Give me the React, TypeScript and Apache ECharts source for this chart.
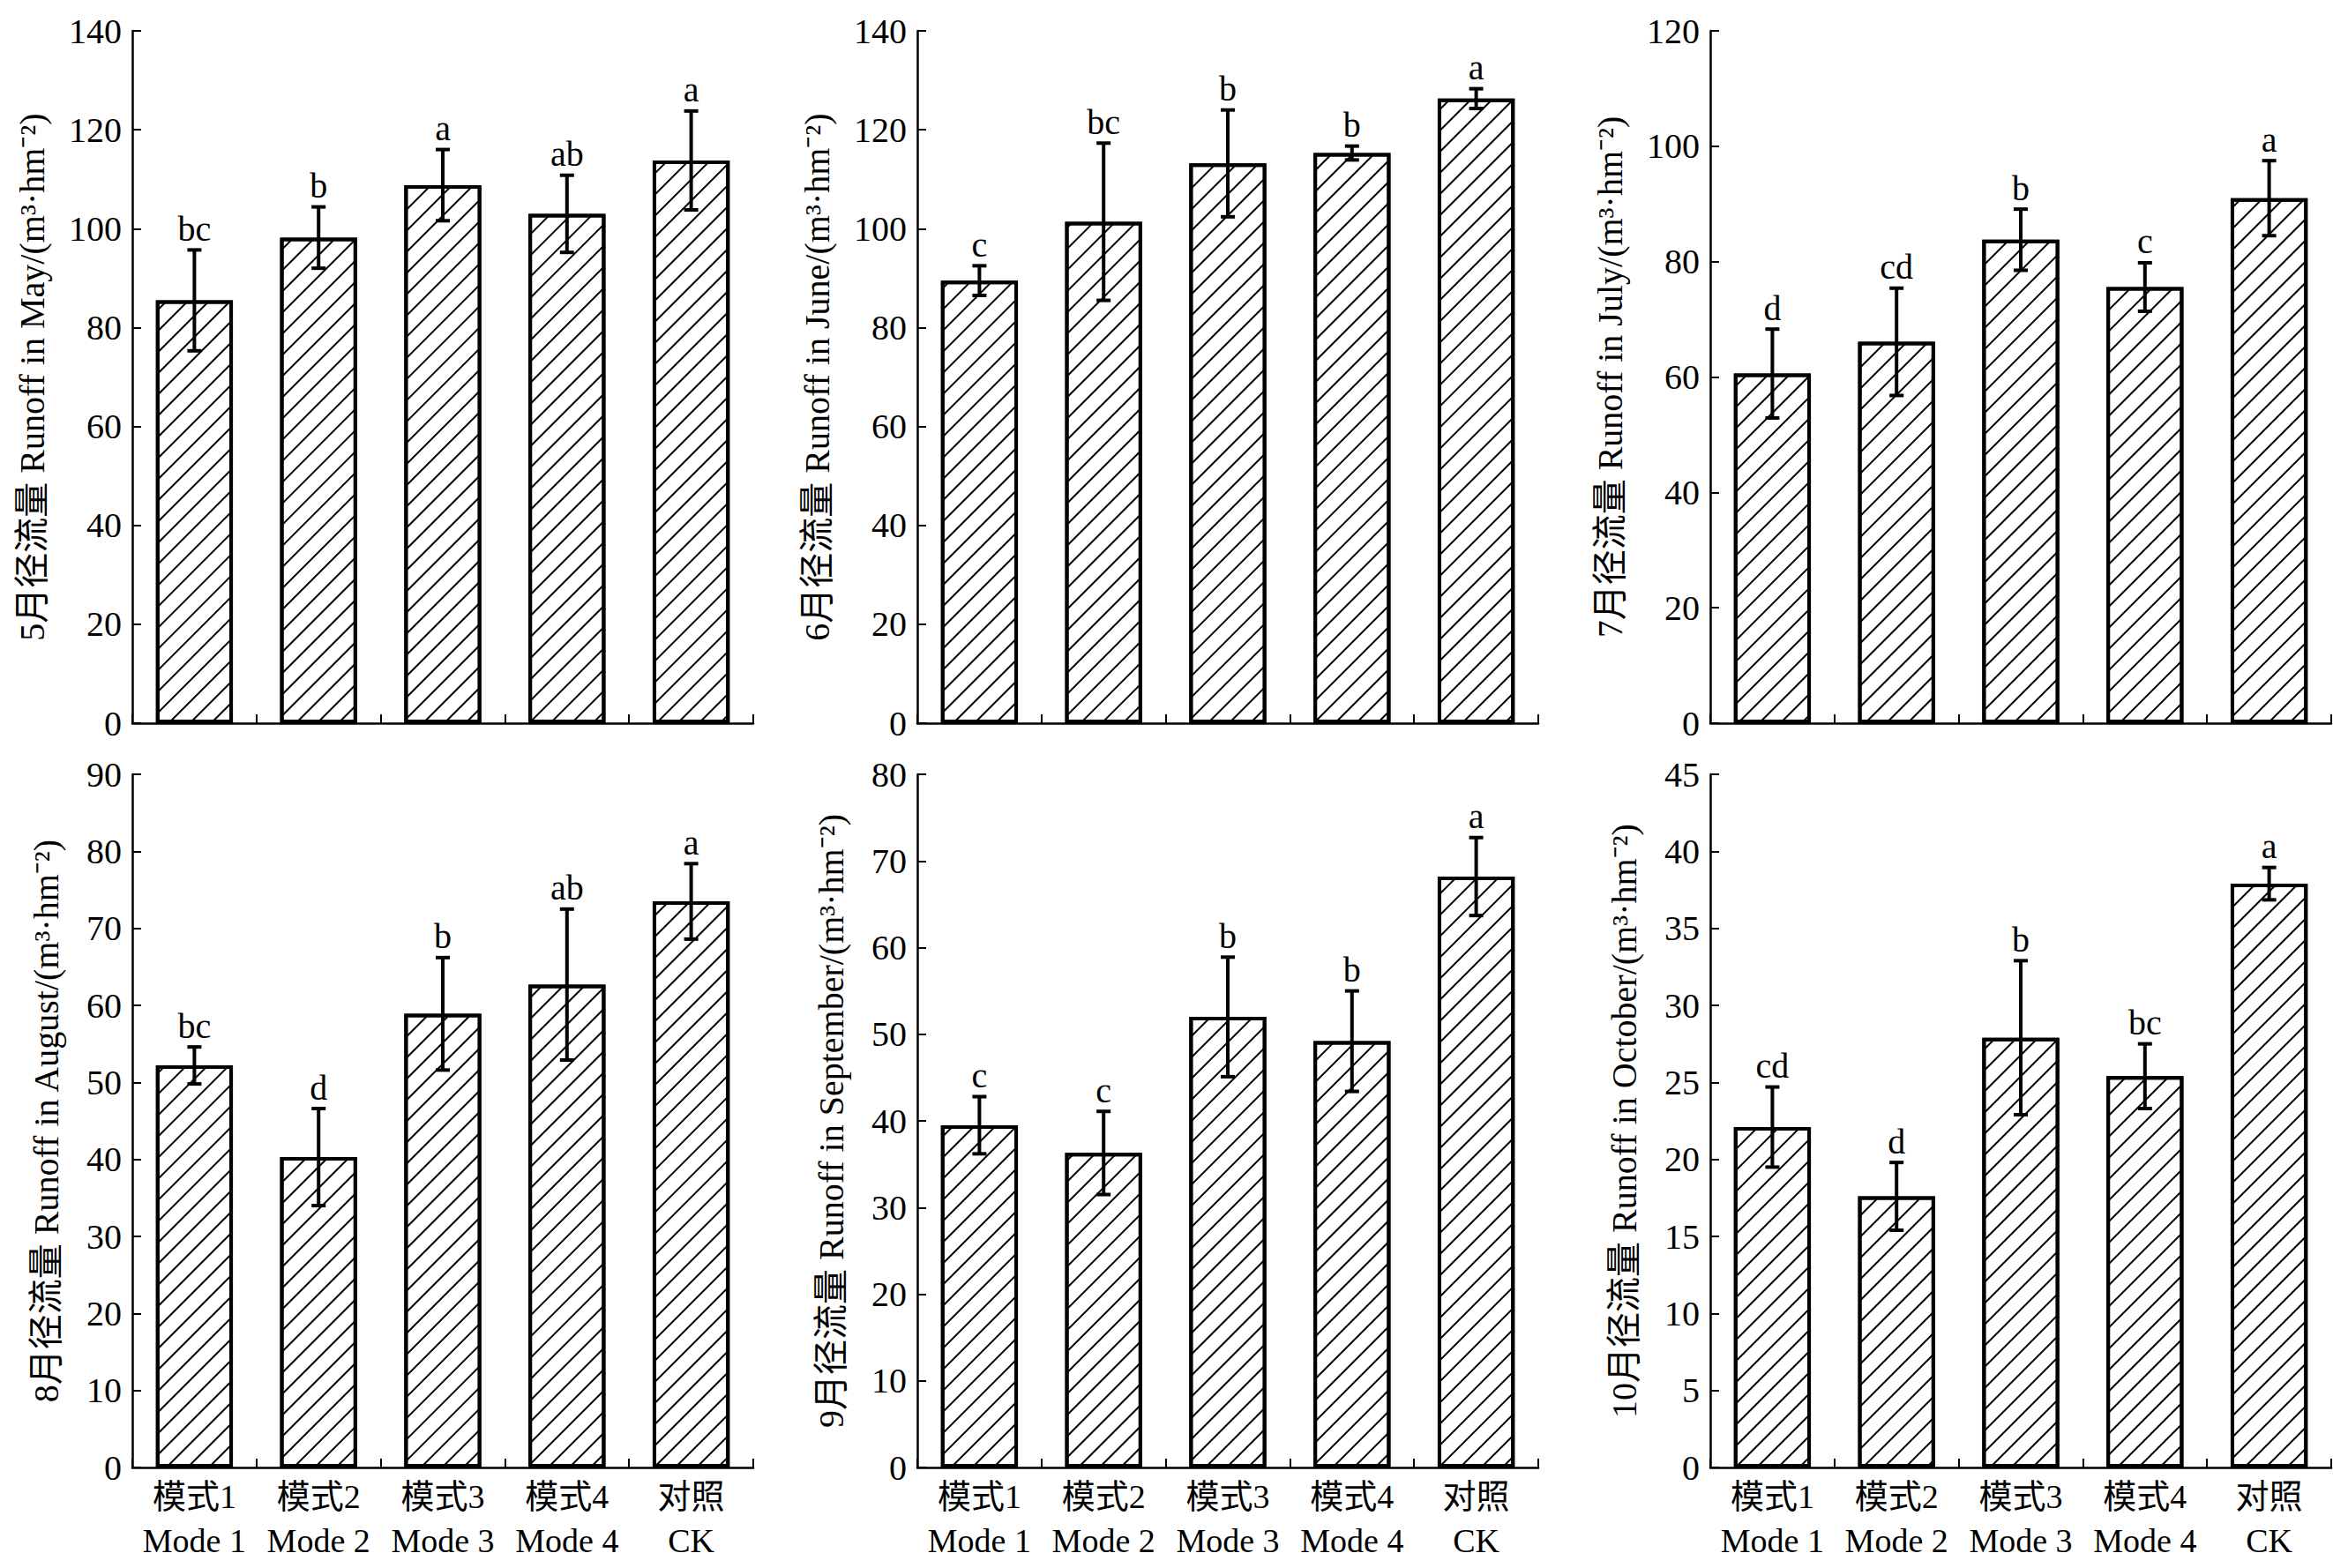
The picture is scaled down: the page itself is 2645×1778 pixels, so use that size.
import React, { useEffect, useRef } from 'react';
import * as echarts from 'echarts';

const categories = ['模式1\nMode 1', '模式2\nMode 2', '模式3\nMode 3', '模式4\nMode 4', '对照\nCK'];

const mayValues = [85.5, 98.2, 108.8, 103.0, 113.8];
const mayErrors = [10.2, 6.2, 7.2, 7.8, 10.0];
const mayLetters = ['bc', 'b', 'a', 'ab', 'a'];

const juneValues = [89.5, 101.4, 113.2, 115.3, 126.3];
const juneErrors = [3.0, 15.9, 10.8, 1.4, 2.0];
const juneLetters = ['c', 'bc', 'b', 'b', 'a'];

const julyValues = [60.6, 66.1, 83.8, 75.6, 91.0];
const julyErrors = [7.7, 9.3, 5.3, 4.2, 6.5];
const julyLetters = ['d', 'cd', 'b', 'c', 'a'];

const augustValues = [52.2, 40.3, 58.9, 62.7, 73.5];
const augustErrors = [2.4, 6.3, 7.3, 9.8, 4.9];
const augustLetters = ['bc', 'd', 'b', 'ab', 'a'];

const septemberValues = [39.5, 36.3, 52.0, 49.2, 68.2];
const septemberErrors = [3.3, 4.8, 6.9, 5.8, 4.5];
const septemberLetters = ['c', 'c', 'b', 'b', 'a'];

const octoberValues = [22.1, 17.6, 27.9, 25.4, 37.9];
const octoberErrors = [2.6, 2.2, 5.0, 2.1, 1.05];
const octoberLetters = ['cd', 'd', 'b', 'bc', 'a'];

const yMaxes = [140, 140, 120, 90, 80, 45];
const yIntervals = [20, 20, 20, 10, 10, 5];
const yTitles = [
  '5月径流量 Runoff in May/(m³·hm⁻²)',
  '6月径流量 Runoff in June/(m³·hm⁻²)',
  '7月径流量 Runoff in July/(m³·hm⁻²)',
  '8月径流量 Runoff in August/(m³·hm⁻²)',
  '9月径流量 Runoff in September/(m³·hm⁻²)',
  '10月径流量 Runoff in October/(m³·hm⁻²)',
];

const panelValues = [mayValues, juneValues, julyValues, augustValues, septemberValues, octoberValues];
const panelErrors = [mayErrors, juneErrors, julyErrors, augustErrors, septemberErrors, octoberErrors];
const panelLetters = [mayLetters, juneLetters, julyLetters, augustLetters, septemberLetters, octoberLetters];

const FONT = '"Liberation Serif", "Times New Roman", "Noto Sans CJK SC", serif';

const colLefts = [150, 1040, 1939];
const rowTops = [35, 878];
const rowHeights = [785, 786];
const gridWidth = 704;

function buildOption() {
  const grid: any[] = [];
  const xAxis: any[] = [];
  const yAxis: any[] = [];
  const series: any[] = [];
  for (let i = 0; i < 6; i++) {
    const row = Math.floor(i / 3);
    const col = i % 3;
    grid.push({
      left: colLefts[col],
      top: rowTops[row],
      width: gridWidth,
      height: rowHeights[row],
      containLabel: false,
      outerBoundsMode: 'none',
    });
    xAxis.push({
      type: 'category',
      gridIndex: i,
      data: categories,
      boundaryGap: true,
      axisLine: { show: true, lineStyle: { color: '#000', width: 2.5 } },
      axisTick: { show: true, inside: true, length: 10, lineStyle: { color: '#000', width: 2 } },
      axisLabel: {
        show: row === 1,
        interval: 0,
        color: '#000',
        fontFamily: FONT,
        fontSize: 38,
        lineHeight: 50,
        margin: 8,
      },
      splitLine: { show: false },
    });
    const threeDigit = yMaxes[i] >= 100;
    yAxis.push({
      type: 'value',
      gridIndex: i,
      min: 0,
      max: yMaxes[i],
      interval: yIntervals[i],
      name: yTitles[i],
      nameLocation: 'middle',
      nameRotate: 90,
      nameGap: threeDigit ? 94 : 78,
      nameTextStyle: { color: '#000', fontFamily: FONT, fontSize: 40 },
      axisLine: { show: true, lineStyle: { color: '#000', width: 2.5 } },
      axisTick: { show: true, inside: true, length: 10, lineStyle: { color: '#000', width: 2 } },
      axisLabel: { color: '#000', fontFamily: FONT, fontSize: 40, margin: 12 },
      splitLine: { show: false },
    });
    series.push({
      type: 'bar',
      xAxisIndex: i,
      yAxisIndex: i,
      data: panelValues[i],
      barWidth: '62%',
      itemStyle: {
        color: '#fff',
        borderColor: '#000',
        borderWidth: 4,
        decal: {
          symbol: 'rect',
          symbolSize: 1,
          symbolKeepAspect: false,
          color: '#000',
          backgroundColor: '#fff',
          dashArrayX: [1, 0],
          dashArrayY: [2, 15],
          rotation: -Math.PI / 4,
        },
      },
      emphasis: { disabled: true },
      z: 2,
    });
    const errs = panelErrors[i];
    const letters = panelLetters[i];
    series.push({
      type: 'custom',
      xAxisIndex: i,
      yAxisIndex: i,
      z: 5,
      clip: false,
      data: panelValues[i].map((v, k) => [k, v, errs[k]]),
      encode: { x: 0, y: 1 },
      renderItem: (params: any, api: any) => {
        const x = api.value(0);
        const v = api.value(1);
        const e = api.value(2);
        const top = api.coord([x, v + e]);
        const bot = api.coord([x, v - e]);
        const cap = 8;
        const st = { stroke: '#000', lineWidth: 4 };
        return {
          type: 'group',
          children: [
            { type: 'line', shape: { x1: top[0], y1: top[1], x2: bot[0], y2: bot[1] }, style: st },
            { type: 'line', shape: { x1: top[0] - cap, y1: top[1], x2: top[0] + cap, y2: top[1] }, style: st },
            { type: 'line', shape: { x1: bot[0] - cap, y1: bot[1], x2: bot[0] + cap, y2: bot[1] }, style: st },
            {
              type: 'text',
              x: top[0],
              y: top[1] - 4,
              style: {
                text: letters[params.dataIndex],
                fill: '#000',
                fontFamily: FONT,
                fontSize: 40,
                align: 'center',
                verticalAlign: 'bottom',
              },
            },
          ],
        };
      },
    });
  }
  return {
    animation: false,
    backgroundColor: '#fff',
    grid,
    xAxis,
    yAxis,
    series,
  };
}

export default function App() {
  const ref = useRef<HTMLDivElement>(null);
  useEffect(() => {
    document.body.style.margin = '0';
    if (!ref.current) return;
    const chart = echarts.init(ref.current, undefined, { renderer: 'svg' });
    chart.setOption(buildOption() as any);
    return () => {
      chart.dispose();
    };
  }, []);
  return <div ref={ref} style={{ width: 2645, height: 1778, background: '#fff' }} />;
}
